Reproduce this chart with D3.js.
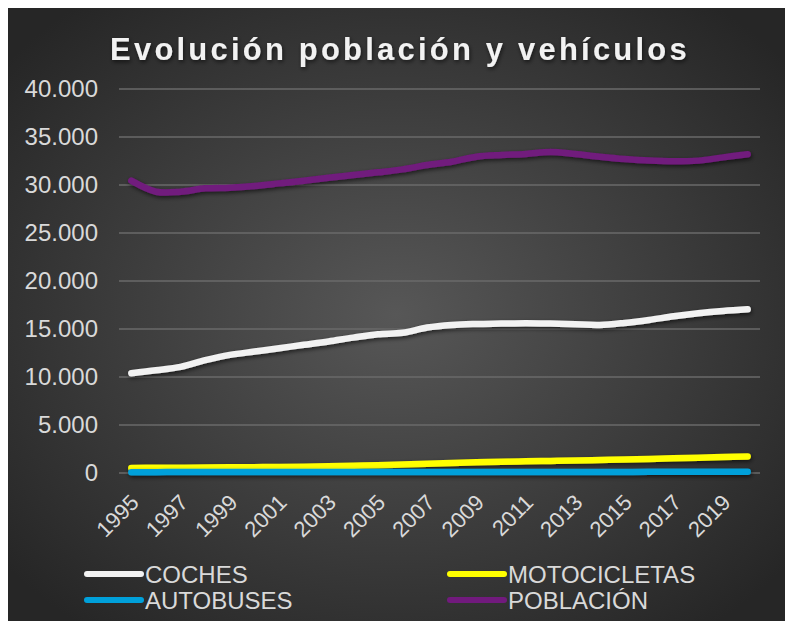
<!DOCTYPE html>
<html>
<head>
<meta charset="utf-8">
<script src="https://d3js.org/d3.v7.min.js"></script>
</head>
<body style="margin:0; background-color: white;">

<div id="my_dataviz"></div>

<script>
// data
var years = [1995, 1996, 1997, 1998, 1999, 2000, 2001, 2002, 2003, 2004, 2005, 2006, 2007,
             2008, 2009, 2010, 2011, 2012, 2013, 2014, 2015, 2016, 2017, 2018, 2019, 2020];
var coches = [10400, 10700, 11050, 11750, 12300, 12650, 13000, 13350, 13700, 14100, 14450, 14600, 15150,
              15420, 15520, 15560, 15600, 15560, 15490, 15420, 15630, 15940, 16320, 16630, 16870, 17050];
var motocicletas = [530, 540, 550, 570, 590, 610, 630, 660, 700, 750, 810, 880, 960,
                    1040, 1110, 1170, 1220, 1260, 1300, 1350, 1400, 1460, 1530, 1600, 1670, 1730];
var autobuses = [90, 90, 95, 95, 100, 100, 100, 105, 105, 110, 110, 110, 115,
                 115, 115, 115, 115, 115, 115, 115, 115, 120, 120, 120, 120, 120];
var poblacion = [30450, 29300, 29300, 29650, 29720, 29900, 30170, 30450, 30760, 31040, 31320, 31630, 32080,
                 32430, 32950, 33125, 33230, 33440, 33230, 32950, 32710, 32540, 32470, 32540, 32880, 33200];
var yTicks = [0, 5000, 10000, 15000, 20000, 25000, 30000, 35000, 40000];

var series = [
  {name: "COCHES", values: coches, color: "#f2f2f2"},
  {name: "MOTOCICLETAS", values: motocicletas, color: "#ffff00"},
  {name: "AUTOBUSES", values: autobuses, color: "#00a0da"},
  {name: "POBLACIÓN", values: poblacion, color: "#711a7d"}
];

var W = 792, H = 629;
var plot = {left: 119, right: 760, top: 89, bottom: 473};

var svg = d3.select("#my_dataviz")
  .append("svg")
    .attr("width", W)
    .attr("height", H)
    .style("display", "block");

var defs = svg.append("defs");
var grad = defs.append("radialGradient")
    .attr("id", "bg")
    .attr("cx", "50%").attr("cy", "50%").attr("r", "65%");
grad.append("stop").attr("offset", "0%").attr("stop-color", "#575757");
grad.append("stop").attr("offset", "100%").attr("stop-color", "#262626");

// shadow in user space, so flat lines are not clipped
var shadow = defs.append("filter").attr("id", "shadow")
    .attr("filterUnits", "userSpaceOnUse")
    .attr("x", 0).attr("y", 0).attr("width", W).attr("height", H);
shadow.append("feDropShadow")
    .attr("dx", 1).attr("dy", 2).attr("stdDeviation", 2)
    .attr("flood-color", "#000").attr("flood-opacity", 0.6);

// background box
svg.append("rect")
    .attr("x", 8).attr("y", 8)
    .attr("width", 777).attr("height", 613)
    .attr("fill", "url(#bg)");

// title
svg.append("text")
    .attr("x", 400).attr("y", 60)
    .attr("text-anchor", "middle")
    .style("font-family", "Arial, 'Liberation Sans', sans-serif")
    .style("font-weight", "bold")
    .style("font-size", "31px")
    .style("letter-spacing", "3.2px")
    .attr("fill", "#f2f2f2")
    .attr("filter", "url(#shadow)")
    .text("Evolución población y vehículos");

// scales
var x = d3.scaleBand()
    .domain(years)
    .range([plot.left, plot.right]);
var y = d3.scaleLinear()
    .domain([0, 40000])
    .range([plot.bottom, plot.top]);

var fmt = d3.formatLocale({decimal: ",", thousands: ".", grouping: [3], currency: ["", ""]}).format(",");

// gridlines
svg.append("g")
  .selectAll("line")
  .data(yTicks)
  .enter().append("line")
    .attr("x1", plot.left).attr("x2", plot.right)
    .attr("y1", function(d) { return y(d); })
    .attr("y2", function(d) { return y(d); })
    .attr("stroke", "#6a6a6a")
    .attr("stroke-width", 1.5);

// y axis labels
var yAxis = svg.append("g")
    .attr("transform", "translate(" + (plot.left - 21) + ",0)")
    .call(d3.axisLeft(y).tickValues(yTicks).tickFormat(fmt).tickSize(0).tickPadding(0));
yAxis.select(".domain").remove();
yAxis.selectAll("text")
    .style("font-family", "Arial, 'Liberation Sans', sans-serif")
    .style("font-size", "24px")
    .attr("fill", "#d9d9d9");

// x axis labels
svg.append("g")
  .selectAll("text")
  .data(years.filter(function(d, i) { return i % 2 === 0; }))
  .enter().append("text")
    .attr("transform", function(d) {
      return "translate(" + (x(d) + x.bandwidth() / 2 - 2) + "," + (plot.bottom + 20) + ") rotate(-45)";
    })
    .attr("text-anchor", "end")
    .attr("dy", "0.7em")
    .style("font-family", "Arial, 'Liberation Sans', sans-serif")
    .style("font-size", "22px")
    .attr("fill", "#d9d9d9")
    .text(function(d) { return d; });

// lines
var line = d3.line()
    .x(function(d, i) { return x(years[i]) + x.bandwidth() / 2; })
    .y(function(d) { return y(d); })
    .curve(d3.curveCatmullRom);

svg.append("g")
  .selectAll("path")
  .data(series)
  .enter().append("path")
    .attr("d", function(d) { return line(d.values); })
    .attr("fill", "none")
    .attr("stroke", function(d) { return d.color; })
    .attr("stroke-width", 6.5)
    .attr("stroke-linecap", "round")
    .attr("stroke-linejoin", "round")
    .attr("filter", "url(#shadow)");

// legend
var legend = svg.append("g")
  .selectAll("g")
  .data(series)
  .enter().append("g")
    .attr("transform", function(d, i) {
      return "translate(" + (i % 2 === 0 ? 87 : 450) + "," + (574 + Math.floor(i / 2) * 26) + ")";
    });
legend.append("line")
    .attr("x1", 0).attr("x2", 54)
    .attr("stroke", function(d) { return d.color; })
    .attr("stroke-width", 6)
    .attr("stroke-linecap", "round");
legend.append("text")
    .attr("x", 58)
    .attr("dy", "0.36em")
    .style("font-family", "Arial, 'Liberation Sans', sans-serif")
    .style("font-size", "24px")
    .attr("fill", "#d9d9d9")
    .text(function(d) { return d.name; });
</script>
</body>
</html>
